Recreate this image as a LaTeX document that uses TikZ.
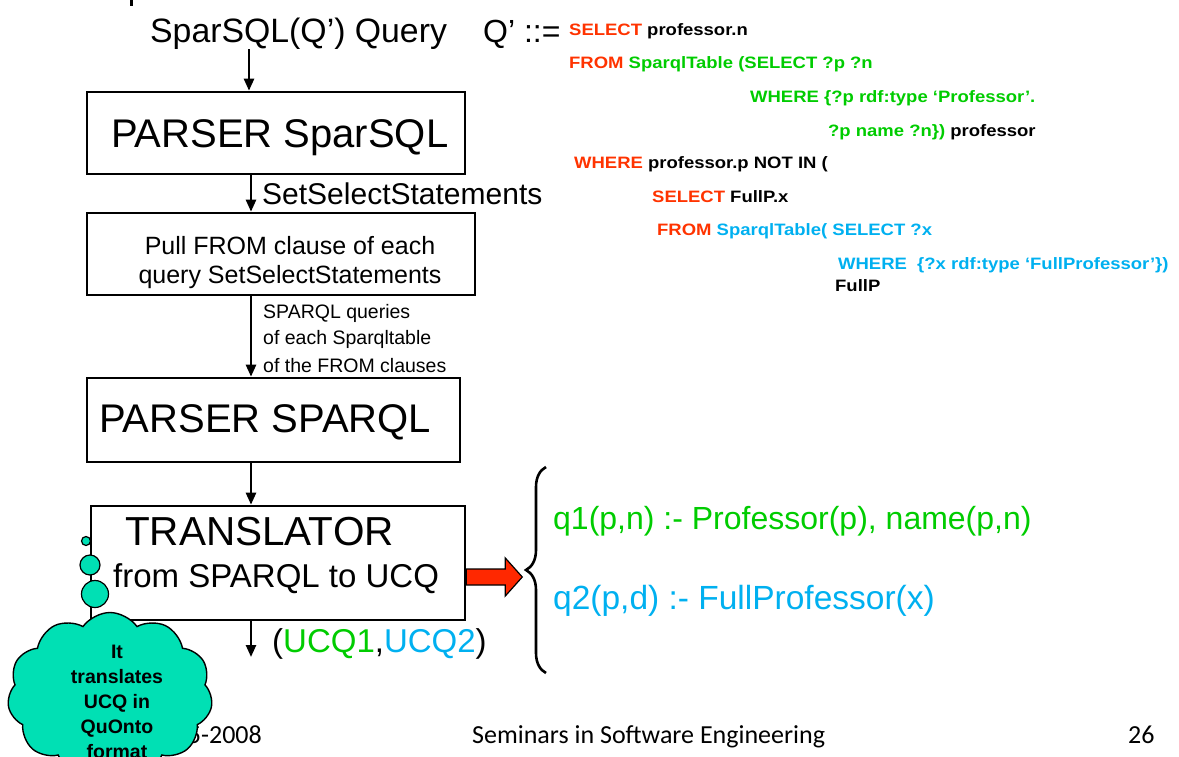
\documentclass[tikz,border=0pt]{standalone}
\usepackage{fontspec}
\setmainfont{Liberation Sans}
\newfontfamily\codefont[FakeStretch=1.12]{Liberation Sans}
\newfontfamily\footfont{Carlito}
\usetikzlibrary{arrows.meta,shapes.symbols,decorations.pathreplacing,calc}
\definecolor{cred}{RGB}{255,51,0}
\definecolor{cgreen}{RGB}{0,204,0}
\definecolor{cblue}{RGB}{0,176,240}
\definecolor{cteal}{RGB}{0,224,180}
\definecolor{arrred}{RGB}{255,40,0}
\begin{document}
\begin{tikzpicture}[x=1pt,y=-1pt,
  box/.style={draw,line width=2.6pt,inner sep=0pt},
  arr/.style={line width=2.4pt,-{Triangle[length=12pt,width=10pt]}},
  txt/.style={inner sep=0pt,anchor=base west},
  code/.style={inner sep=0pt,anchor=base west,font={\codefont\bfseries\fontsize{16.5}{18}\selectfont}},
  bubble/.style={draw,fill=cteal,line width=1.2pt,circle,inner sep=0pt}]
\useasboundingbox (0,0) rectangle (1179,756);
\fill (130,0) rectangle (133,6);
% title
\node[txt,font=\fontsize{33.8}{36}\selectfont] (title) at (150,42) {SparSQL(Q’) Query};
\node[txt,font=\fontsize{32}{36}\selectfont] (qdef) at (483,42) {Q’ ::=};
% boxes
\node[box,minimum width=378pt,minimum height=82pt] (b1) at (276,133) {};
\node[box,minimum width=388pt,minimum height=82pt] (b2) at (281,254) {};
\node[box,minimum width=373pt,minimum height=84pt] (b3) at (273.5,420) {};
\node[box,minimum width=374pt,minimum height=114pt] (b4) at (278,563) {};
\coordinate (ax) at (249,0);
\coordinate (bend) at (251,657);
\draw[arr] (title.south -| ax) -- (b1.north -| ax);
\draw[arr] (b1.south -| bend) -- (b2.north -| bend);
\draw[arr] (b2.south -| bend) -- (b3.north -| bend);
\draw[arr] (b3.south -| bend) -- (b4.north -| bend);
\draw[arr] (b4.south -| bend) -- (bend);
% box texts
\node[txt,font=\fontsize{40}{40}\selectfont] (t1) at (111,147) {PARSER SparSQL};
\node[txt,font=\fontsize{30}{30}\selectfont] (l1) at (262,204) {SetSelectStatements};
\node[inner sep=0pt,anchor=base,font=\fontsize{25}{25}\selectfont] (t2a) at (290,254) {Pull FROM clause of each};
\node[inner sep=0pt,anchor=base,font=\fontsize{25}{25}\selectfont] (t2b) at (290,283) {query SetSelectStatements};
\node[txt,font=\fontsize{19.5}{19}\selectfont] (l2a) at (263,318) {SPARQL queries};
\node[txt,font=\fontsize{19.5}{19}\selectfont] (l2b) at (263,344) {of each Sparqltable};
\node[txt,font=\fontsize{19.5}{19}\selectfont] (l2c) at (263,372) {of the FROM clauses};
\node[txt,font=\fontsize{40}{40}\selectfont] (t3) at (99,432) {PARSER SPARQL};
\node[txt,font=\fontsize{40.5}{40}\selectfont] (t4a) at (125,545) {TRANSLATOR};
\node[txt,font=\fontsize{33}{33}\selectfont] (t4b) at (113,587) {from SPARQL to UCQ};
\node[txt,font=\fontsize{33}{33}\selectfont] (ucq) at (272,652) {(\textcolor{cgreen}{UCQ1},\textcolor{cblue}{UCQ2})};
% red arrow
\draw[fill=arrred,line width=1.2pt] ($(b4.east)+(0,6)$) -- ++(39,0) -- ++(0,-11) -- ++(17,19) -- ++(-17,19) -- ++(0,-11) -- ++(-39,0) -- cycle;
% brace
\draw[line width=2.6pt,decorate,decoration={brace,amplitude=20pt}] (546,673) -- (546,467);
\node[txt,text=cgreen,font=\fontsize{32}{32}\selectfont] (q1) at (553,529) {q1(p,n) :- Professor(p), name(p,n)};
\node[txt,text=cblue,font=\fontsize{33.5}{32}\selectfont] (q2) at (553,609) {q2(p,d) :- FullProfessor(x)};
% code
\node[code] (c1) at (569,35.5) {\textcolor{cred}{SELECT} professor.n};
\node[code] (c2) at (569,68.5) {\textcolor{cred}{FROM} \textcolor{cgreen}{SparqlTable (SELECT ?p ?n}};
\node[code,text=cgreen] (c3) at (750,102.5) {WHERE \{?p rdf:type ‘Professor’.};
\node[code] (c4) at (828,136.5) {\textcolor{cgreen}{?p name ?n\})} professor};
\node[code] (c5) at (574,168.5) {\textcolor{cred}{WHERE} professor.p NOT IN (};
\node[code] (c6) at (652,202.5) {\textcolor{cred}{SELECT} FullP.x};
\node[code] (c7) at (657,235.5) {\textcolor{cred}{FROM} \textcolor{cblue}{SparqlTable( SELECT ?x}};
\node[code,text=cblue] (c8) at (838,269.5) {WHERE\ \ \{?x rdf:type ‘FullProfessor’\})};
\node[code] (c9) at (835,291.5) {FullP};
% footer
\node[txt,font=\footfont\fontsize{26}{26}\selectfont] (foot) at (472,743) {Seminars in Software Engineering};
\node[txt,font=\footfont\fontsize{26}{26}\selectfont] (pg) at (1128,743) {26};
\node[inner sep=0pt,anchor=base east,font=\footfont\fontsize{26}{26}\selectfont] (date) at (262,743) {05-2008};
% thought bubbles and cloud
\node[bubble,minimum size=9pt] (bb1) at (86,541) {};
\node[bubble,minimum size=20pt] (bb2) at (90,565) {};
\node[bubble,minimum size=27pt] (bb3) at (95,594) {};
\node[cloud,cloud puffs=11,cloud puff arc=110,draw,fill=cteal,line width=1.4pt,minimum width=205pt,minimum height=165pt,inner sep=0pt] (cloud) at (110,695) {};
\node[inner sep=0pt,anchor=north,align=center,font=\bfseries\fontsize{19.5}{25}\selectfont] (ct) at (117,645) {It\\translates\\UCQ in\\QuOnto\\format};
\end{tikzpicture}
\end{document}
